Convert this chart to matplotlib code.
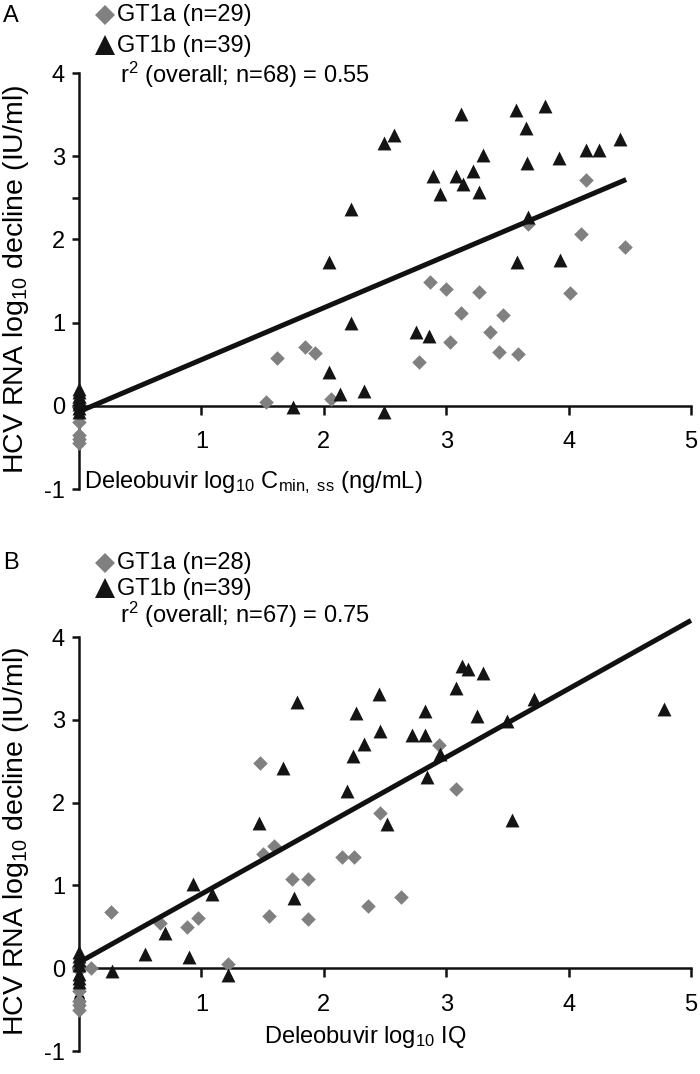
import matplotlib
matplotlib.use("Agg")
import matplotlib.pyplot as plt
import numpy as np

plt.rcParams['font.family'] = ['Liberation Sans', 'DejaVu Sans']
plt.rcParams['mathtext.fontset'] = 'custom'
plt.rcParams['mathtext.rm'] = 'Liberation Sans'
plt.rcParams['mathtext.it'] = 'Liberation Sans'
plt.rcParams['mathtext.default'] = 'regular'

# ---------------- data ----------------
# Panel A: log10 Cmin,ss vs HCV RNA decline
a_gt1a_x = [0, 0, 0, 0, 0, 0, 0, 0, 0,
            1.53, 1.62, 1.85, 1.93, 2.06, 2.78, 2.87, 3.00, 3.03, 3.12,
            3.27, 3.36, 3.43, 3.46, 3.59, 3.67, 4.01, 4.10, 4.14, 4.46]
a_gt1a_y = [0.03, 0.01, 0.0, -0.01, -0.02, -0.20, -0.35, -0.40, -0.45,
            0.04, 0.58, 0.71, 0.63, 0.08, 0.53, 1.49, 1.40, 0.77, 1.11,
            1.37, 0.89, 0.65, 1.09, 0.62, 2.19, 1.36, 2.07, 2.71, 1.91]
a_gt1b_x = [0, 0, 0, 0, 0, 0, 0, 0,
            1.75, 2.04, 2.22, 2.22, 2.04, 2.13, 2.33, 2.49, 2.49, 2.57,
            3.12, 3.57, 3.81, 3.65, 3.30, 2.89, 3.08, 3.22, 3.14, 2.95,
            3.27, 3.66, 3.92, 4.14, 4.25, 4.42, 3.67, 3.58, 3.93, 2.75, 2.86]
a_gt1b_y = [0.20, 0.16, 0.12, 0.08, 0.05, 0.02, -0.03, -0.08,
            -0.01, 1.73, 2.37, 0.99, 0.41, 0.14, 0.18, -0.07, 3.16, 3.25,
            3.51, 3.56, 3.60, 3.34, 3.02, 2.76, 2.76, 2.82, 2.66, 2.54,
            2.57, 2.92, 2.98, 3.07, 3.08, 3.21, 2.27, 1.73, 1.75, 0.89, 0.84]
a_fit = (0.624, -0.07)   # slope, intercept
a_fit_x = [0, 4.47]

# Panel B: log10 IQ vs HCV RNA decline
b_gt1a_x = [0, 0, 0, 0, 0, 0, 0, 0,
            0.26, 0.10, 0.66, 0.88, 0.97, 1.22, 1.48, 1.50, 1.59, 1.55,
            1.74, 1.87, 1.87, 2.15, 2.25, 2.46, 2.36, 2.63, 2.94, 3.08]
b_gt1a_y = [0.03, 0.01, 0.0, -0.02, -0.27, -0.40, -0.45, -0.50,
            0.68, 0.0, 0.55, 0.50, 0.61, 0.05, 2.48, 1.38, 1.47, 0.63,
            1.08, 1.08, 0.60, 1.34, 1.34, 1.88, 0.75, 0.86, 2.69, 2.17]
b_gt1b_x = [0, 0, 0, 0, 0, 0, 0,
            0.27, 0.54, 0.90, 0.70, 0.93, 1.09, 1.22, 1.67, 1.47, 1.76,
            1.78, 2.26, 2.24, 2.19, 2.33, 2.46, 2.45, 2.52, 2.72, 2.83,
            2.83, 2.84, 2.95, 3.08, 3.13, 3.18, 3.30, 3.25, 3.50, 3.72,
            3.54, 4.78]
b_gt1b_y = [0.20, 0.15, 0.10, 0.04, -0.07, -0.12, -0.17,
            -0.03, 0.17, 0.14, 0.42, 1.02, 0.90, -0.08, 2.42, 1.75, 0.85,
            3.21, 3.08, 2.56, 2.14, 2.71, 2.86, 3.31, 1.74, 2.82, 2.82,
            3.11, 2.31, 2.59, 3.39, 3.65, 3.61, 3.56, 3.05, 2.99, 3.25,
            1.79, 3.13]
b_fit = (0.826, 0.07)
b_fit_x = [0, 5]

x_ticks = [0, 1, 2, 3, 4, 5]
x_ticklabels = ['0', '1', '2', '3', '4', '5']
y_ticks = [-1, 0, 1, 2, 3, 4]
y_ticklabels = ['-1', '0', '1', '2', '3', '4']

panels = [
    dict(letter='A', gt1a=(a_gt1a_x, a_gt1a_y), gt1b=(a_gt1b_x, a_gt1b_y),
         fit=a_fit, fit_x=a_fit_x,
         leg=['GT1a (n=29)', 'GT1b (n=39)', 'r$^{2}$ (overall; n=68) = 0.55'],
         xlabel='Deleobuvir log$_{10}$ C$_{min,\\ ss}$ (ng/mL)',
         minor=[2.5]),
    dict(letter='B', gt1a=(b_gt1a_x, b_gt1a_y), gt1b=(b_gt1b_x, b_gt1b_y),
         fit=b_fit, fit_x=b_fit_x,
         leg=['GT1a (n=28)', 'GT1b (n=39)', 'r$^{2}$ (overall; n=67) = 0.75'],
         xlabel='Deleobuvir log$_{10}$ IQ',
         minor=[]),
]

W, H = 700, 1074
fig = plt.figure(figsize=(W / 100, H / 100), dpi=100)

def fx(px):
    return px / W

def fy(py):
    return 1 - py / H

# layout in pixels
layouts = [
    dict(ax=(79, 73, 691, 489), letter=(3, 16), rows=(15, 46, 75),
         xlab=(253, 488), ylab=(16, 279)),
    dict(ax=(79, 637, 691, 1051), letter=(3, 563), rows=(563, 589, 615),
         xlab=(365, 1043), ylab=(16, 841)),
]

GRAY = '#808080'
BLACK = '#141414'
FS = 17

for p, L in zip(panels, layouts):
    x0, y0, x1, y1 = L['ax']
    ax = fig.add_axes([fx(x0), fy(y1), fx(x1) - fx(x0), (y1 - y0) / H])
    ax.set_xlim(0, 5)
    ax.set_ylim(-1, 4)
    for s in ['top', 'right']:
        ax.spines[s].set_visible(False)
    ax.spines['bottom'].set_position(('data', 0))
    for s in ['left', 'bottom']:
        ax.spines[s].set_linewidth(1.8)
        ax.spines[s].set_color('#111111')
    ax.set_xticks(x_ticks)
    ax.set_xticklabels(x_ticklabels)
    ax.set_yticks(y_ticks)
    ax.set_yticklabels(y_ticklabels)
    if p['minor']:
        ax.set_yticks(p['minor'], minor=True)
    ax.tick_params(axis='x', direction='out', length=6.5, width=1.8,
                   pad=12, labelsize=FS, color='#111111')
    ax.tick_params(axis='y', which='both', direction='out', length=5,
                   width=1.8, pad=5, labelsize=FS, color='#111111')
    ax.tick_params(axis='x', which='minor', length=0)

    gx, gy = p['gt1a']
    ax.scatter(gx, gy, marker='D', s=55, color=GRAY, linewidths=0,
               clip_on=False, zorder=3)
    tx, ty = p['gt1b']
    ax.scatter(tx, ty, marker='^', s=100, color=BLACK, linewidths=0,
               clip_on=False, zorder=3)
    slope, icpt = p['fit']
    xs = np.array(p['fit_x'], dtype=float)
    ax.plot(xs, slope * xs + icpt, color='#111111', lw=3.6,
            solid_capstyle='butt', zorder=4, clip_on=False)

    # panel letter
    fig.text(fx(L['letter'][0]), fy(L['letter'][1]), p['letter'],
             fontsize=FS, ha='left', va='center')
    # legend
    r0, r1, r2 = L['rows']
    fig.add_artist(plt.Line2D([fx(105)], [fy(r0)], marker='D', ms=10.5,
                              color=GRAY, mew=0, transform=fig.transFigure))
    fig.add_artist(plt.Line2D([fx(105)], [fy(r1 - 1)], marker='^', ms=15,
                              color=BLACK, mew=0, transform=fig.transFigure))
    fig.text(fx(117), fy(r0), p['leg'][0], fontsize=FS, ha='left', va='center')
    fig.text(fx(117), fy(r1), p['leg'][1], fontsize=FS, ha='left', va='center')
    fig.text(fx(120), fy(r2), p['leg'][2], fontsize=FS, ha='left', va='center')

    # axis labels
    fig.text(fx(L['xlab'][0]), fy(L['xlab'][1]), p['xlabel'], fontsize=FS,
             ha='center', va='baseline')
    fig.text(fx(L['ylab'][0]), fy(L['ylab'][1]),
             'HCV RNA log$_{10}$ decline (IU/ml)', fontsize=20.5,
             rotation=90, ha='center', va='center')

fig.savefig('out.png', dpi=100)
